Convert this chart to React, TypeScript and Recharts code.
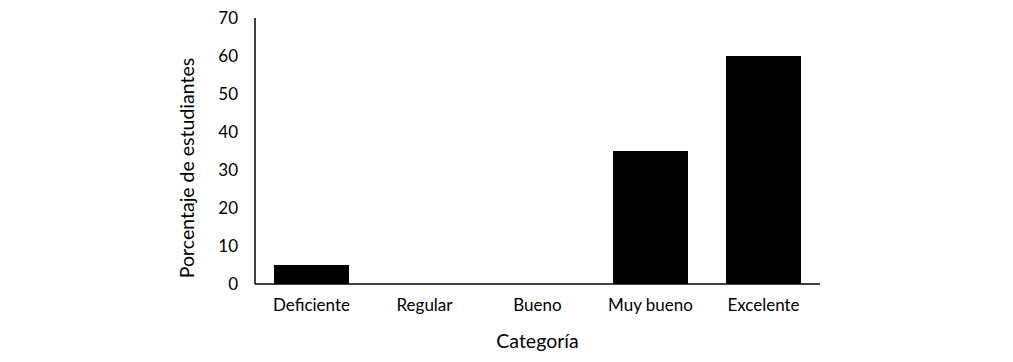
import { BarChart, Bar, XAxis, YAxis } from 'recharts';

const categories = ['Deficiente', 'Regular', 'Bueno', 'Muy bueno', 'Excelente'];
const porcentajes = [5, 0, 0, 35, 60];
const yTicks = [0, 10, 20, 30, 40, 50, 60, 70];

const data = categories.map((c, i) => ({ name: c, value: porcentajes[i] }));

const FONT = 'Lato, "Open Sans", sans-serif';

// rotated y label, shifted a bit toward the bottom like the original
function YLabel({ viewBox }: any) {
  const x = viewBox.x + 21;
  const y = viewBox.y + viewBox.height / 2 + 17;
  return (
    <text
      x={x}
      y={y}
      transform={`rotate(-90, ${x}, ${y})`}
      textAnchor="middle"
      dominantBaseline="central"
      fill="#000"
      fontSize={19.5}
      fontFamily={FONT}
    >
      Porcentaje de estudiantes
    </text>
  );
}

export default function App() {
  return (
    <div style={{ position: 'absolute', left: 0, top: 0, background: '#fff' }}>
      <BarChart
        width={1013}
        height={362}
        data={data}
        margin={{ top: 18, right: 193, left: 165, bottom: 0 }}
        style={{ fontFamily: FONT }}
      >
        <XAxis
          dataKey="name"
          height={78}
          tickLine={false}
          axisLine={{ stroke: '#000', strokeWidth: 1.5 }}
          tick={{ fill: '#000', fontSize: 17 }}
          tickMargin={9}
          label={{ value: 'Categoría', position: 'insideBottom', offset: 14, fill: '#000', fontSize: 19.5 }}
        />
        <YAxis
          width={90}
          domain={[0, 70]}
          ticks={yTicks}
          interval={0}
          tickLine={false}
          axisLine={{ stroke: '#000', strokeWidth: 1.5 }}
          tick={{ fill: '#000', fontSize: 17 }}
          tickMargin={11}
          label={<YLabel />}
        />
        <Bar dataKey="value" fill="#000" barSize={75} isAnimationActive={false} />
      </BarChart>
    </div>
  );
}
